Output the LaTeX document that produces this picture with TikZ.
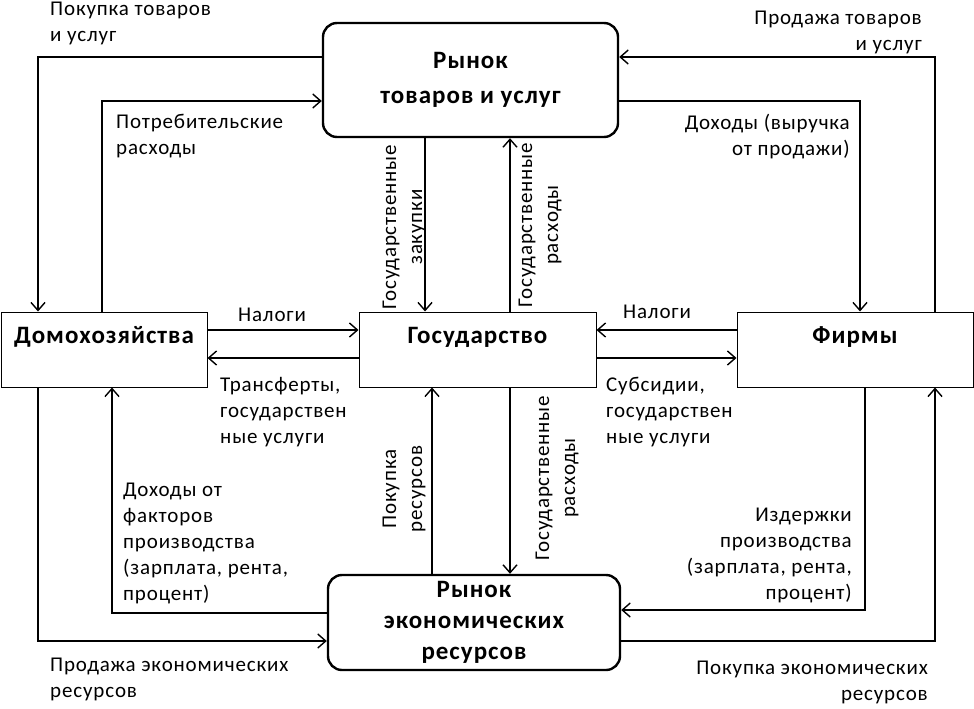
\documentclass[tikz,border=0pt]{standalone}
\usepackage{fontspec}
\setmainfont{Carlito}[LetterSpace=4]
\usepackage{tikz}
\usetikzlibrary{arrows.meta}

\tikzset{
  flow/.style={line width=1.5pt, -{Straight Barb[length=8pt,width=14pt,line width=1.4pt]}},
  market/.style={draw, line width=2.4pt, rounded corners=14pt, inner sep=0pt, align=center},
  agent/.style={draw, line width=1pt, inner sep=0pt, anchor=base, text height=31pt, text depth=44pt,
    font=\bfseries\fontsize{25}{33}\selectfont},
  caption/.style={inner sep=0pt, align=left, font=\fontsize{21}{26}\selectfont},
}

\begin{document}
\begin{tikzpicture}[x=1pt, y=-1pt]
\useasboundingbox (0,0) rectangle (974,709);

\node[market, minimum width=295pt, minimum height=114pt, font=\bfseries\fontsize{25}{35}\selectfont] (goods) at (470.5,80) {Рынок\\товаров и услуг};
\node[market, minimum width=292pt, minimum height=95pt, font=\bfseries\fontsize{25}{31}\selectfont] (resources) at (474,622.5) {Рынок\\экономических\\ресурсов};
\node[agent, minimum width=206pt] (house) at (104,343) {Домохозяйства};
\node[agent, minimum width=237pt] (state) at (477.5,343) {Государство};
\node[agent, minimum width=236pt] (firms) at (855,343) {Фирмы};

\draw[flow] (goods.west |- 0,57) -| (house.north -| 38,0);
\draw[flow] (house.north -| 102,0) |- (goods.west |- 0,101);
\draw[flow] (firms.north -| 935,0) |- (goods.east |- 0,57);
\draw[flow] (goods.east |- 0,101) -| (firms.north -| 860,0);
\draw[flow] (goods.south -| 425,0) -- (state.north -| 425,0);
\draw[flow] (state.north -| 510,0) -- (goods.south -| 510,0);
\draw[flow] (house.east |- 0,330) -- (state.west |- 0,330);
\draw[flow] (state.west |- 0,358) -- (house.east |- 0,358);
\draw[flow] (firms.west |- 0,330) -- (state.east |- 0,330);
\draw[flow] (state.east |- 0,358) -- (firms.west |- 0,358);
\draw[flow] (house.south -| 38,0) |- (resources.west |- 0,641);
\draw[flow] (resources.west |- 0,613) -| (house.south -| 112,0);
\draw[flow] (firms.south -| 865,0) |- (resources.east |- 0,610);
\draw[flow] (resources.east |- 0,641) -| (firms.south -| 935,0);
\draw[flow] (resources.north -| 432,0) -- (state.south -| 432,0);
\draw[flow] (state.south -| 510,0) -- (resources.north -| 510,0);

\node[caption, anchor=north west] (buygoods) at (50,2) {Покупка товаров\\и услуг};
\node[caption, anchor=north west] (consumption) at (116,114) {Потребительские\\расходы};
\node[caption, anchor=north east, align=right] (sellgoods) at (922,11) {Продажа товаров\\и услуг};
\node[caption, anchor=north east, align=right] (revenue) at (850,114) {Доходы (выручка\\от продажи)};
\node[caption, anchor=base] (taxhouse) at (272,321) {Налоги};
\node[caption, anchor=base] (taxfirms) at (657,318) {Налоги};
\node[caption, anchor=north west] (transfers) at (220,377) {Трансферты,\\государствен\\ные услуги};
\node[caption, anchor=north west] (subsidies) at (606,377) {Субсидии,\\государствен\\ные услуги};
\node[caption, anchor=north west] (factorincome) at (123,483) {Доходы от\\факторов\\производства\\(зарплата, рента,\\процент)};
\node[caption, anchor=north east, align=right] (costs) at (852,508) {Издержки\\производства\\(зарплата, рента,\\процент)};
\node[caption, anchor=north west] (sellres) at (50,658) {Продажа экономических\\ресурсов};
\node[caption, anchor=north east, align=right] (buyres) at (928,661) {Покупка экономических\\ресурсов};

\node[caption, align=center, rotate=90] (purchases) at (404,227) {Государственные\\закупки};
\node[caption, align=center, rotate=90] (spendup) at (540,225) {Государственные\\расходы};
\node[caption, align=center, rotate=90] (buyinputs) at (404,489) {Покупка\\ресурсов};
\node[caption, align=center, rotate=90] (spenddown) at (557,478) {Государственные\\расходы};
\end{tikzpicture}
\end{document}
